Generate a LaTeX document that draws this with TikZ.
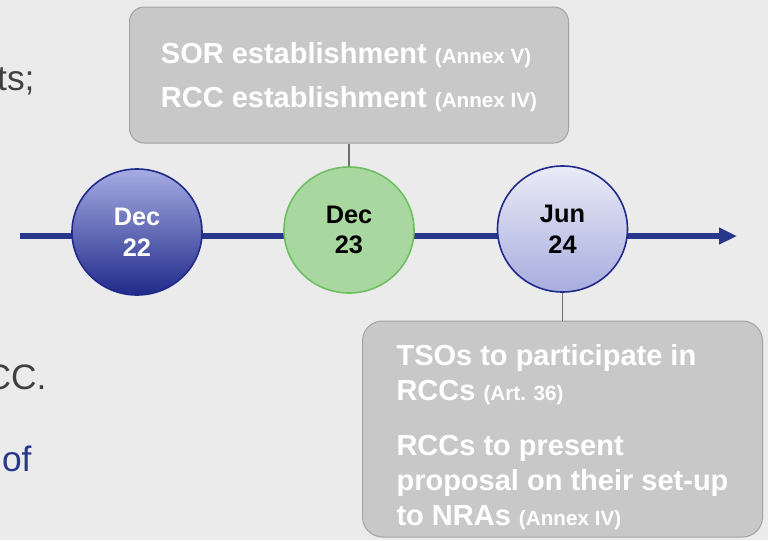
\documentclass[tikz,border=0pt]{standalone}
\usepackage{fontspec}
\setmainfont{Liberation Sans}
\usetikzlibrary{shapes.geometric,arrows.meta}

\definecolor{slidebg}{RGB}{235,235,235}
\definecolor{lineblue}{RGB}{40,55,140}
\definecolor{boxfill}{RGB}{200,200,200}
\definecolor{boxedge}{RGB}{162,162,162}
\definecolor{stemgray}{RGB}{110,110,110}
\definecolor{darktext}{RGB}{64,64,64}
\definecolor{greenfill}{RGB}{168,216,160}
\definecolor{greenedge}{RGB}{110,190,98}
\definecolor{paleblue}{RGB}{234,235,247}
\definecolor{midblue}{RGB}{168,173,222}
\definecolor{lilac}{RGB}{166,172,226}
\definecolor{deepblue}{RGB}{32,42,138}

\tikzset{every picture/.style={line width=0.75pt}}

\newcommand{\annexref}[1]{{\fontsize{15.5}{18}\selectfont #1}}

\begin{document}
\begin{tikzpicture}[x=0.75pt,y=0.75pt,yscale=-1,xscale=1,
  datecircle/.style={ellipse, minimum width=97.5pt, minimum height=94.5pt, inner sep=0pt, align=center, font=\fontsize{19}{23}\selectfont\bfseries, line width=1.2pt},
  notebox/.style={draw=boxedge, fill=boxfill, rounded corners=11pt, align=left, text=white, font=\fontsize{21.75}{26.25}\selectfont\bfseries},
  stem/.style={draw=stemgray, line width=0.9pt},
  timeline/.style={draw=lineblue, line width=4pt, -{Triangle[length=13.5pt,width=12pt]}},
  slidetext/.style={anchor=base east, inner sep=0pt, font=\fontsize{26.5}{31}\selectfont}]

%set diagram size 768 x 540
\clip (0,0) rectangle (768,540);
\fill[slidebg] (0,0) rectangle (768,540);

% Text Node
\node[slidetext, text=darktext] (fragts) at (35,90) {ts;};
% Text Node
\node[slidetext, text=darktext] (fragcc) at (47,389) {CC.};
% Text Node
\node[slidetext, text=lineblue] (fragof) at (32,471) {of};

%Straight Lines: time axis
\coordinate (tstart) at (20,236);
\coordinate (tend) at (737,236);
\draw[timeline] (tstart) -- (tend);

%Shape: Circle
\node[datecircle, draw=deepblue, top color=lilac, bottom color=deepblue, text=white] (dec22) at (137,232) {Dec\\22};
%Shape: Circle
\node[datecircle, draw=greenedge, fill=greenfill] (dec23) at (349,230) {Dec\\23};
%Shape: Circle
\node[datecircle, draw=deepblue, top color=paleblue, bottom color=midblue] (jun24) at (562.5,229) {Jun\\24};

%Shape: Rounded Rect
\node[notebox, minimum width=329.25pt, minimum height=102pt] (sorbox) at (349,75)
  {\rule{0pt}{19pt}SOR establishment \annexref{(Annex V)}\\[7pt]
   RCC establishment \annexref{(Annex IV)}};
%Shape: Rounded Rect
\node[notebox, rounded corners=15pt, minimum width=300pt, minimum height=162pt] (tsobox) at (562.5,429)
  {\rule{0pt}{27.5pt}TSOs to participate in\\
   RCCs \annexref{(Art. 36)}\\[15pt]
   RCCs to present\\
   proposal on their set-up\\
   to NRAs \annexref{(Annex IV)}};

%Straight Lines
\draw[stem] (sorbox.south) -- (dec23.north);
\draw[stem] (jun24.south) -- (tsobox.north);

\end{tikzpicture}
\end{document}
